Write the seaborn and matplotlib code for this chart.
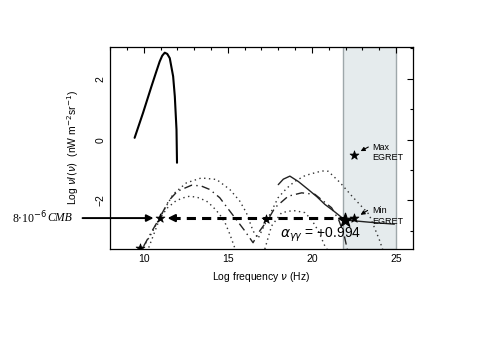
import matplotlib
matplotlib.use("Agg")
import matplotlib.pyplot as plt
import seaborn as sns
from matplotlib.ticker import MultipleLocator

# curva do CMB (linha cheia grossa)
cmb_x = [9.46, 9.96, 10.46, 10.75, 10.95, 11.1, 11.25, 11.4, 11.55, 11.75, 11.85, 11.95, 11.98]
cmb_y = [0.06, 0.88, 1.75, 2.24, 2.57, 2.76, 2.86, 2.82, 2.68, 2.08, 1.42, 0.33, -0.76]

# pontilhada de cima (sincrotron + IC)
dot_sup_x = [9.96, 10.5, 10.95, 11.74, 12.54, 13.43, 14.33, 15.12, 15.71, 16.1, 16.5, 16.8,
             17.1, 17.6, 17.99, 18.5, 18.99, 19.6, 20.18, 20.6, 20.97, 21.67, 22.4, 23.4, 24.0, 24.2]
dot_sup_y = [-3.55, -3.05, -2.57, -1.8, -1.42, -1.26, -1.31, -1.64, -2.02, -2.4, -3.0, -3.25,
             -2.9, -2.35, -1.91, -1.6, -1.37, -1.18, -1.09, -1.03, -1.04, -1.41, -1.87, -2.46, -3.28, -3.6]

# tracejada do meio
dash_x = [10.0, 10.5, 10.95, 11.5, 12.0, 12.84, 13.4, 13.93, 14.52, 15.12, 15.6, 16.01, 16.5,
          16.9, 17.4, 17.8, 18.59, 19.39, 20.18, 21.17, 21.6, 21.9, 22.1]
dash_y = [-3.5, -3.0, -2.57, -2.0, -1.7, -1.5, -1.52, -1.64, -1.91, -2.35, -2.7, -3.0, -3.39,
          -3.0, -2.62, -2.24, -1.86, -1.75, -1.8, -2.24, -2.65, -3.1, -3.6]

# pontilhada de baixo (esquerda e direita)
dot_inf_esq_x = [10.3, 10.95, 11.4, 11.9, 12.3, 12.74, 13.2, 13.73, 14.1, 14.52, 14.85, 15.12, 15.4, 15.5]
dot_inf_esq_y = [-3.55, -2.6, -2.25, -2.02, -1.92, -1.86, -1.9, -2.02, -2.2, -2.46, -2.75, -3.11, -3.54, -3.7]
dot_inf_dir_x = [17.2, 17.6, 18.2, 18.89, 19.58, 20.0, 20.38, 20.77, 20.9]
dot_inf_dir_y = [-3.6, -2.84, -2.4, -2.33, -2.4, -2.65, -3.0, -3.5, -3.6]

# linha cheia fina (IC) ate o EGRET
ic_x = [18.0, 18.3, 18.69, 19.2, 19.78, 20.3, 20.77, 21.3, 21.95, 22.5, 23.5, 24.9]
ic_y = [-1.48, -1.3, -1.2, -1.38, -1.64, -1.88, -2.13, -2.35, -2.64, -2.67, -2.72, -2.78]

# estrelas
estrelas_x = [9.76, 10.95, 17.3, 22.48, 22.48]
estrelas_y = [-3.57, -2.58, -2.6, -2.59, -0.49]
estrela_grande = (21.95, -2.64)

nivel_cmb = -2.58
faixa_egret = (21.86, 25.0)

sns.set_style("white")
plt.rcParams['font.family'] = ['Liberation Sans', 'DejaVu Sans']
plt.rcParams['mathtext.fontset'] = 'dejavusans'
plt.rcParams['text.color'] = 'k'
plt.rcParams['axes.labelcolor'] = 'k'
plt.rcParams['xtick.color'] = 'k'
plt.rcParams['ytick.color'] = 'k'

fig = plt.figure(figsize=(4.98, 3.45), dpi=100)
ax = fig.add_axes([0.221, 0.278, 0.608, 0.586])

ax.axvspan(faixa_egret[0], faixa_egret[1], facecolor='#e5ebed', edgecolor='#9ea7aa', lw=1.0, zorder=0)

sns.lineplot(x=cmb_x, y=cmb_y, sort=False, estimator=None, color='k', lw=1.5, ax=ax)
sns.lineplot(x=dot_sup_x, y=dot_sup_y, sort=False, estimator=None, color='#333333', lw=1.0,
             linestyle=(0, (1, 2.5)), ax=ax)
sns.lineplot(x=dash_x, y=dash_y, sort=False, estimator=None, color='#222222', lw=1.0,
             linestyle=(0, (6, 3, 1, 3)), ax=ax)
sns.lineplot(x=dot_inf_esq_x, y=dot_inf_esq_y, sort=False, estimator=None, color='#333333', lw=1.0,
             linestyle=(0, (1, 2.5)), ax=ax)
sns.lineplot(x=dot_inf_dir_x, y=dot_inf_dir_y, sort=False, estimator=None, color='#333333', lw=1.0,
             linestyle=(0, (1, 2.5)), ax=ax)
sns.lineplot(x=ic_x, y=ic_y, sort=False, estimator=None, color='#222222', lw=1.0, ax=ax)

# linha tracejada grossa do nivel do CMB
sns.lineplot(x=[11.6, estrela_grande[0]], y=[nivel_cmb, nivel_cmb], color='k', lw=2.2,
             linestyle=(0, (3, 2)), ax=ax)
ax.annotate('', xy=(11.25, nivel_cmb), xytext=(11.9, nivel_cmb),
            arrowprops=dict(arrowstyle='-|>', color='k', lw=1.5, mutation_scale=11))

# seta cheia vindo do texto
ax.annotate('', xy=(10.75, nivel_cmb), xytext=(6.2, nivel_cmb), annotation_clip=False,
            arrowprops=dict(arrowstyle='-|>', color='k', lw=1.4, mutation_scale=10))
ax.text(2.2, nivel_cmb, r'8$\cdot$10$^{-6}$', family='Liberation Serif', fontsize=8.5,
        ha='left', va='center', clip_on=False)
ax.text(4.3, nivel_cmb, 'CMB', family='Liberation Serif', style='italic', fontsize=8.5,
        ha='left', va='center', clip_on=False)

sns.scatterplot(x=estrelas_x, y=estrelas_y, marker='*', s=45, color='k', edgecolor='k', ax=ax, zorder=5)
sns.scatterplot(x=[estrela_grande[0]], y=[estrela_grande[1]], marker='*', s=110, color='k',
                edgecolor='k', ax=ax, zorder=5)

# EGRET max / min
ax.text(23.6, -0.27, 'Max', fontsize=6.5, ha='left', va='center')
ax.text(23.6, -0.6, 'EGRET', fontsize=6.5, ha='left', va='center')
ax.annotate('', xy=(22.75, -0.42), xytext=(23.5, -0.2),
            arrowprops=dict(arrowstyle='-|>', color='k', lw=0.8, mutation_scale=6))
ax.text(23.57, -2.33, 'Min', fontsize=6.5, ha='left', va='center')
ax.text(23.57, -2.68, 'EGRET', fontsize=6.5, ha='left', va='center')
ax.annotate('', xy=(22.75, -2.52), xytext=(23.45, -2.28),
            arrowprops=dict(arrowstyle='-|>', color='k', lw=0.8, mutation_scale=6))

ax.text(18.1, -3.12, r'$\alpha_{\gamma\gamma}$ = +0.994', fontsize=10, ha='left', va='center')

ax.set_xlim(8, 26)
ax.set_ylim(-3.6, 3.05)
ax.xaxis.set_major_locator(MultipleLocator(5))
ax.xaxis.set_minor_locator(MultipleLocator(1))
ax.yaxis.set_major_locator(MultipleLocator(2))
ax.yaxis.set_minor_locator(MultipleLocator(1))
ax.tick_params(which='both', direction='in', top=True, right=True, labelsize=7.5, width=0.8)
ax.tick_params(which='major', length=4)
ax.tick_params(which='minor', length=2.5)
plt.setp(ax.get_yticklabels(), rotation=90, va='center')
for s in ax.spines.values():
    s.set_linewidth(0.9)
    s.set_color('k')

ax.set_xlabel(r'Log frequency $\nu$ (Hz)', fontsize=7.5, labelpad=4)
ax.set_ylabel(r'Log $\nu I(\nu)$  (nW m$^{-2}$sr$^{-1}$)', fontsize=7.5, labelpad=10)

fig.savefig('out.png', dpi=100)
